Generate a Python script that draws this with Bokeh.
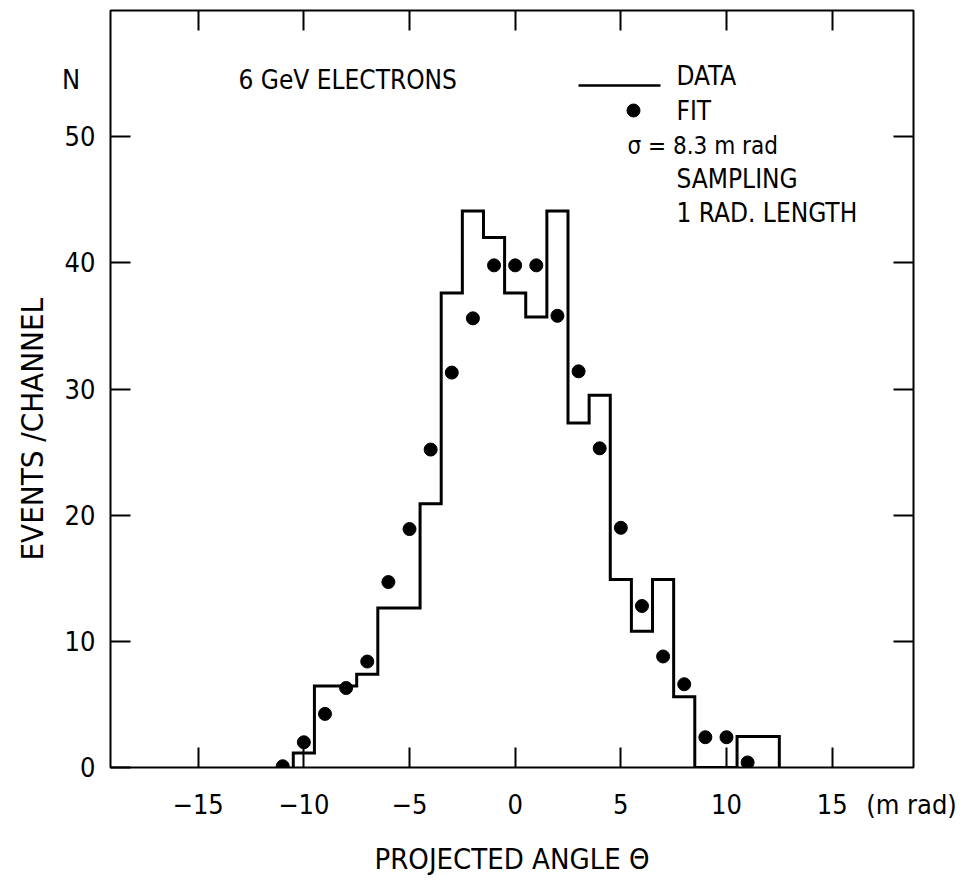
import numpy as np
from bokeh.plotting import figure
from bokeh.models import LinearAxis, FixedTicker, Label, CustomJSTickFormatter, Range1d, Title
from bokeh.embed import file_html
from bokeh.resources import INLINE

# ---------------- data ----------------
bin_centers = list(range(-10, 13))          # channel centres, mrad (width 1 mrad)
data_counts = [1.15, 6.45, 6.45, 7.4, 12.65, 12.65, 20.9, 37.6, 44.1, 42.0,
               37.6, 35.7, 44.1, 27.3, 29.5, 14.9, 10.8, 14.9, 5.6, 0.0,
               0.0, 2.45, 2.45]
fit_angles = list(range(-11, 12))
fit_values = [0.1, 2.0, 4.25, 6.3, 8.4, 14.7, 18.9, 25.2, 31.3, 35.6, 39.8,
              39.8, 39.8, 35.8, 31.4, 25.3, 19.0, 12.8, 8.8, 6.6, 2.4, 2.4, 0.4]
x_ticks = [-15, -10, -5, 0, 5, 10, 15]
y_ticks = [0, 10, 20, 30, 40, 50]

# ---------------- layout constants ----------------
W, H = 970, 880
L, R, T, B = 110, 57, 10, 113
X0, X1 = -19.15, 18.85
Y0, Y1 = 0, 60
FONT = "DejaVu Sans Condensed"

fw, fh = W - L - R, H - T - B
def fx(px):
    return X0 + (px - L) * (X1 - X0) / fw
def fy(py):
    return Y1 - (py - T) * (Y1 - Y0) / fh

N_POS = fy(79)          # where the "N" heading sits on the left axis
UNIT_POS = fx(911)      # where "(m rad)" sits on the bottom axis

p = figure(width=W, height=H, x_range=Range1d(X0, X1), y_range=Range1d(Y0, Y1),
           output_backend="svg", toolbar_location=None,
           x_axis_location=None, y_axis_location=None,
           min_border_left=L, min_border_right=R, min_border_top=T, min_border_bottom=B)
p.grid.visible = False
p.outline_line_color = "black"
p.outline_line_width = 2
p.background_fill_color = "white"
p.border_fill_color = "white"

def style_axis(ax, labels=True):
    ax.axis_line_color = None
    ax.major_tick_in = 20
    ax.major_tick_out = 0
    ax.major_tick_line_width = 2
    ax.major_tick_line_color = "black"
    ax.minor_tick_line_color = None
    ax.major_label_text_font = FONT
    ax.major_label_text_font_size = "27px"
    ax.major_label_text_color = "black"
    if not labels:
        ax.formatter = CustomJSTickFormatter(code="return ''")

def tick_marks_from_minor(ax):
    # labels come from the major ticks, the visible marks from the minor ones
    ax.major_tick_in = 0
    ax.major_tick_line_color = None
    ax.minor_tick_in = 20
    ax.minor_tick_out = 0
    ax.minor_tick_line_width = 2
    ax.minor_tick_line_color = "black"

def minus(t):
    return ("\u2212" + str(abs(t))) if t < 0 else str(t)

xb = LinearAxis(ticker=FixedTicker(ticks=x_ticks + [UNIT_POS], minor_ticks=x_ticks))
style_axis(xb)
tick_marks_from_minor(xb)
ovr = {t: minus(t) for t in x_ticks}
ovr[UNIT_POS] = "(m rad)"
xb.major_label_overrides = ovr
xb.major_label_standoff = 21
xb.axis_label = "PROJECTED ANGLE \u0398"
xb.axis_label_text_font = FONT
xb.axis_label_text_font_size = "29px"
xb.axis_label_text_font_style = "normal"
xb.axis_label_text_color = "black"
xb.axis_label_standoff = 19
p.add_layout(xb, "below")

yl = LinearAxis(ticker=FixedTicker(ticks=y_ticks + [N_POS], minor_ticks=y_ticks))
style_axis(yl)
tick_marks_from_minor(yl)
yl.major_label_overrides = {N_POS: "N\u00a0\u00a0"}
yl.major_label_standoff = 15
p.add_layout(yl, "left")

ytitle = Title(text="EVENTS /CHANNEL", align="left", offset=207,
               text_font=FONT, text_font_size="31px", text_font_style="normal",
               text_color="black", standoff=18)
p.add_layout(ytitle, "left")

xt = LinearAxis(ticker=FixedTicker(ticks=x_ticks))
style_axis(xt, labels=False)
p.add_layout(xt, "above")

yr = LinearAxis(ticker=FixedTicker(ticks=y_ticks[1:]))
style_axis(yr, labels=False)
p.add_layout(yr, "right")

# histogram outline (DATA)
edges = np.concatenate([np.array(bin_centers) - 0.5, [bin_centers[-1] + 0.5]])
hx = np.repeat(edges, 2)
hy = np.concatenate([[0.0], np.repeat(np.array(data_counts), 2), [0.0]])
p.line(hx, hy, line_color="black", line_width=3, line_join="miter")

# fit points
p.scatter(fit_angles, fit_values, size=13, marker="circle",
          fill_color="black", line_color="black")

# ---------------- text annotations ----------------
def label(text, px, py, size="26px", align="left", angle=0.0):
    p.add_layout(Label(x=fx(px), y=fy(py), text=text, text_font=FONT,
                       text_font_size=size, text_align=align,
                       text_baseline="middle", text_color="black", angle=angle))

label("6 GeV ELECTRONS", 238, 79)
label("DATA", 676, 75)
label("FIT", 676, 110)
label("\u03c3 = 8.3  m rad", 627, 145, size="24px")
label("SAMPLING", 676, 178)
label("1 RAD. LENGTH", 676, 212)

# legend keys
p.line([fx(578), fx(660)], [fy(85), fy(85)], line_color="black", line_width=2.5)
p.scatter([fx(633)], [fy(110)], size=13, marker="circle",
          fill_color="black", line_color="black")

open("out.html", "w").write(file_html(p, INLINE))
